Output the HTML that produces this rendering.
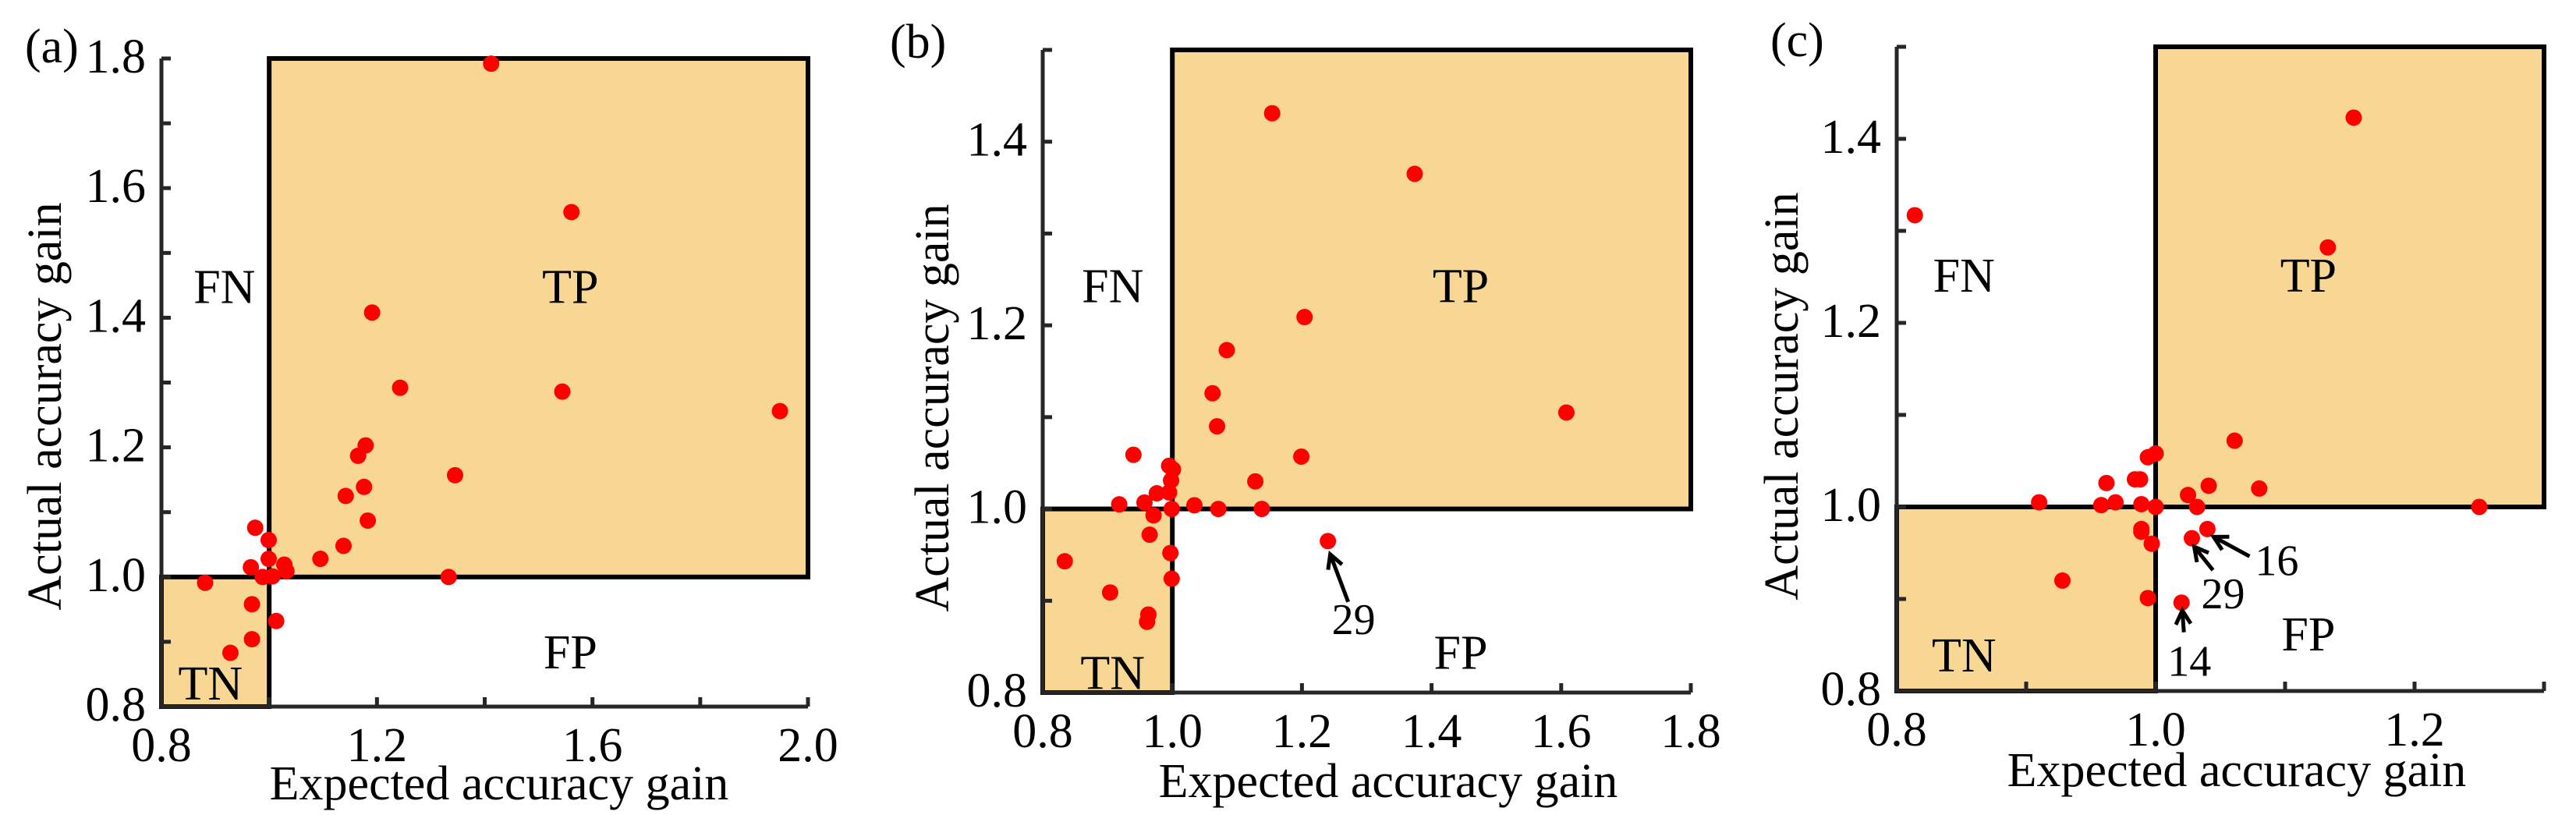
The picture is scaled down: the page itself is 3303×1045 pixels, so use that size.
<!DOCTYPE html>
<html>
<head>
<meta charset="utf-8">
<style>
  html, body { margin: 0; padding: 0; background: #fff; }
  svg { display: block; font-family: "Liberation Serif", serif; }
  text { font-family: "Liberation Serif", serif; fill: #000; }
</style>
</head>
<body>
<svg id="fig" width="3303" height="1045" viewBox="0 0 3303 1045" xmlns="http://www.w3.org/2000/svg" font-family="Liberation Serif, serif"></svg>
<script>
// ---- Panel (a) data ----
const aX = [1.412,1.561,1.191,1.243,1.544,1.948,1.179,1.165,1.345,1.176,1.142,1.183,1.138,1.095,0.974,0.999,0.999,0.966,1.028,1.032,0.988,1.006,1.333,0.881,0.968,1.013,0.968,0.928];
const aY = [1.792,1.563,1.408,1.292,1.286,1.256,1.203,1.187,1.157,1.139,1.125,1.087,1.048,1.028,1.076,1.057,1.028,1.015,1.019,1.009,1.000,1.001,1.000,0.991,0.958,0.932,0.904,0.883];
const aXTicks = [0.8,1.0,1.2,1.4,1.6,1.8,2.0];
const aXLabels = ["0.8","1.2","1.6","2.0"];
const aYTicks = [0.8,0.9,1.0,1.1,1.2,1.3,1.4,1.5,1.6,1.7,1.8];
const aYLabels = ["0.8","1.0","1.2","1.4","1.6","1.8"];

// ---- Panel (b) data ----
const bX = [1.154,1.374,1.204,1.608,1.084,1.062,1.069,1.199,0.940,1.128,1.138,1.071,1.034,0.995,1.001,0.998,0.976,0.995,0.957,0.918,0.999,0.971,0.965,1.240,0.834,0.997,0.999,0.904,0.963,0.961];
const bY = [1.431,1.365,1.209,1.105,1.173,1.126,1.090,1.057,1.059,1.030,1.000,1.000,1.004,1.047,1.043,1.031,1.017,1.018,1.007,1.005,1.000,0.993,0.972,0.965,0.943,0.952,0.924,0.909,0.885,0.877];
const bXTicks = [0.8,1.0,1.2,1.4,1.6,1.8];
const bXLabels = ["0.8","1.0","1.2","1.4","1.6","1.8"];
const bYTicks = [0.8,0.9,1.0,1.1,1.2,1.3,1.4,1.5];
const bYLabels = ["0.8","1.0","1.2","1.4"];

// ---- Panel (c) data ----
const cX = [1.153,1.133,0.814,1.061,0.994,1.000,0.962,0.984,0.988,1.041,1.080,1.025,0.910,0.958,0.969,0.989,1.000,1.032,1.250,1.040,0.989,0.989,1.028,0.997,0.928,0.994,1.020];
const cY = [1.423,1.282,1.317,1.072,1.054,1.058,1.026,1.030,1.030,1.023,1.020,1.013,1.005,1.002,1.005,1.003,1.000,1.000,1.000,0.976,0.976,0.973,0.966,0.960,0.920,0.901,0.896];
const cXTicks = [0.8,0.9,1.0,1.1,1.2,1.3];
const cXLabels = ["0.8","1.0","1.2"];
const cYTicks = [0.8,0.9,1.0,1.1,1.2,1.3,1.4,1.5];
const cYLabels = ["0.8","1.0","1.2","1.4"];

const NS = "http://www.w3.org/2000/svg";
const FONT = '"Liberation Serif", serif';
const svg = document.getElementById('fig');
function mk(tag, attrs, parent) {
  const e = document.createElementNS(NS, tag);
  for (const k in attrs) e.setAttribute(k, attrs[k]);
  if (tag === 'text') e.style.fontFamily = FONT;
  (parent || svg).appendChild(e);
  return e;
}

const panels = [
  { id:'a', X:aX, Y:aY, xt:aXTicks, xl:aXLabels, yt:aYTicks, yl:aYLabels,
    x0:0.8, x1:2.0, y0:0.8, y1:1.8, px0:207, px1:1036, py0:906, py1:75,
    letter:'(a)', lx:32, ly:80, ytx:78, yty:521, xtx:640, xty:1025,
    reg:{FN:[0.917,1.423],TP:[1.559,1.423],FP:[1.559,0.859],TN:[0.891,0.811]}, ann:[] },
  { id:'b', X:bX, Y:bY, xt:bXTicks, xl:bXLabels, yt:bYTicks, yl:bYLabels,
    x0:0.8, x1:1.8, y0:0.8, y1:1.5, px0:1337, px1:2168, py0:888, py1:64,
    letter:'(b)', lx:1141, ly:74, ytx:1216, yty:523, xtx:1780, xty:1022,
    reg:{FN:[0.908,1.225],TP:[1.445,1.225],FP:[1.445,0.826],TN:[0.908,0.804]},
    ann:[{label:'29', px:1.240, py:0.965, hx:3, hy:17, tx:26, ty:78, lx:5, ly:119}] },
  { id:'c', X:cX, Y:cY, xt:cXTicks, xl:cXLabels, yt:cYTicks, yl:cYLabels,
    x0:0.8, x1:1.3, y0:0.8, y1:1.5, px0:2432, px1:3262, py0:886, py1:60,
    letter:'(c)', lx:2270, ly:72, ytx:2305, yty:508, xtx:2868, xty:1008,
    reg:{FN:[0.852,1.234],TP:[1.118,1.234],FP:[1.118,0.844],TN:[0.852,0.821]},
    ann:[{label:'16', px:1.040, py:0.976, hx:8, hy:10, tx:54, ty:35, lx:61, ly:59},
         {label:'29', px:1.028, py:0.966, hx:3, hy:11, tx:27, ty:41, lx:12, ly:90},
         {label:'14', px:1.020, py:0.896, hx:1, hy:10, tx:3, ty:38, lx:-18, ly:94}] }
];

panels.forEach(p => {
  const sx = v => p.px0 + (v - p.x0) / (p.x1 - p.x0) * (p.px1 - p.px0);
  const sy = v => p.py0 - (v - p.y0) / (p.y1 - p.y0) * (p.py0 - p.py1);
  const g = mk('g', {});
  
  

  const tp = mk('rect', {x:sx(1.0), y:sy(p.y1), width:sx(p.x1)-sx(1.0), height:sy(1.0)-sy(p.y1), fill:'#f8d794', stroke:'#000', 'stroke-width':6}, g);
  
  
  const tn = mk('rect', {x:sx(p.x0), y:sy(1.0), width:sx(1.0)-sx(p.x0), height:sy(p.y0)-sy(1.0), fill:'#f8d794', stroke:'#000', 'stroke-width':6}, g);
  
  

  const ax = mk('path', {d:`M${sx(p.x0)},${sy(p.y1)} L${sx(p.x0)},${sy(p.y0)} L${sx(p.x1)},${sy(p.y0)}`, fill:'none', stroke:'#262626', 'stroke-width':5}, g);
  
  

  p.yt.forEach(v => {
    const t = mk('line', {x1:sx(p.x0), x2:sx(p.x0)+12, y1:sy(v), y2:sy(v), stroke:'#262626', 'stroke-width':5}, g);
    
    
  });
  p.yl.forEach(s => {
    const t = mk('text', {x:sx(p.x0)-20, y:sy(parseFloat(s))+18, 'font-size':62, 'text-anchor':'end'}, g);
    t.textContent = s;
    
    
  });
  p.xt.forEach(v => {
    const t = mk('line', {x1:sx(v), x2:sx(v), y1:sy(p.y0), y2:sy(p.y0)-12, stroke:'#262626', 'stroke-width':5}, g);
    
    
  });
  p.xl.forEach(s => {
    const t = mk('text', {x:sx(parseFloat(s)), y:sy(p.y0)+70, 'font-size':62, 'text-anchor':'middle'}, g);
    t.textContent = s;
    
    
  });

  const xt = mk('text', {x:p.xtx, y:p.xty, 'font-size':62, 'text-anchor':'middle'}, g);
  xt.textContent = 'Expected accuracy gain';
  
  
  const yt = mk('text', {x:0, y:0, 'font-size':62, 'text-anchor':'middle', transform:`translate(${p.ytx},${p.yty}) rotate(-90)`}, g);
  yt.textContent = 'Actual accuracy gain';
  
  
  const lt = mk('text', {x:p.lx, y:p.ly, 'font-size':62}, g);
  lt.textContent = p.letter;
  
  

  Object.keys(p.reg).forEach(k => {
    const r = mk('text', {x:sx(p.reg[k][0]), y:sy(p.reg[k][1]), 'font-size':62, 'text-anchor':'middle'}, g);
    r.textContent = k;
    
    
  });

  p.X.forEach((v, i) => {
    const c = mk('circle', {cx:sx(v), cy:sy(p.Y[i]), r:10.5, fill:'#ff0000'}, g);
    
    
  });

  p.ann.forEach(a => {
    const x = sx(a.px), y = sy(a.py);
    const hx = x + a.hx, hy = y + a.hy, tx = x + a.tx, ty = y + a.ty;
    const ang = Math.atan2(hy - ty, hx - tx);
    const L = 20, w = 0.5;
    const d = `M${tx},${ty} L${hx},${hy} M${hx - L*Math.cos(ang-w)},${hy - L*Math.sin(ang-w)} L${hx},${hy} L${hx - L*Math.cos(ang+w)},${hy - L*Math.sin(ang+w)}`;
    const ar = mk('path', {d:d, fill:'none', stroke:'#000', 'stroke-width':5}, g);
    
    
    const t = mk('text', {x:x + a.lx, y:y + a.ly, 'font-size':56}, g);
    t.textContent = a.label;
    
    
  });
});
</script>
</body>
</html>
